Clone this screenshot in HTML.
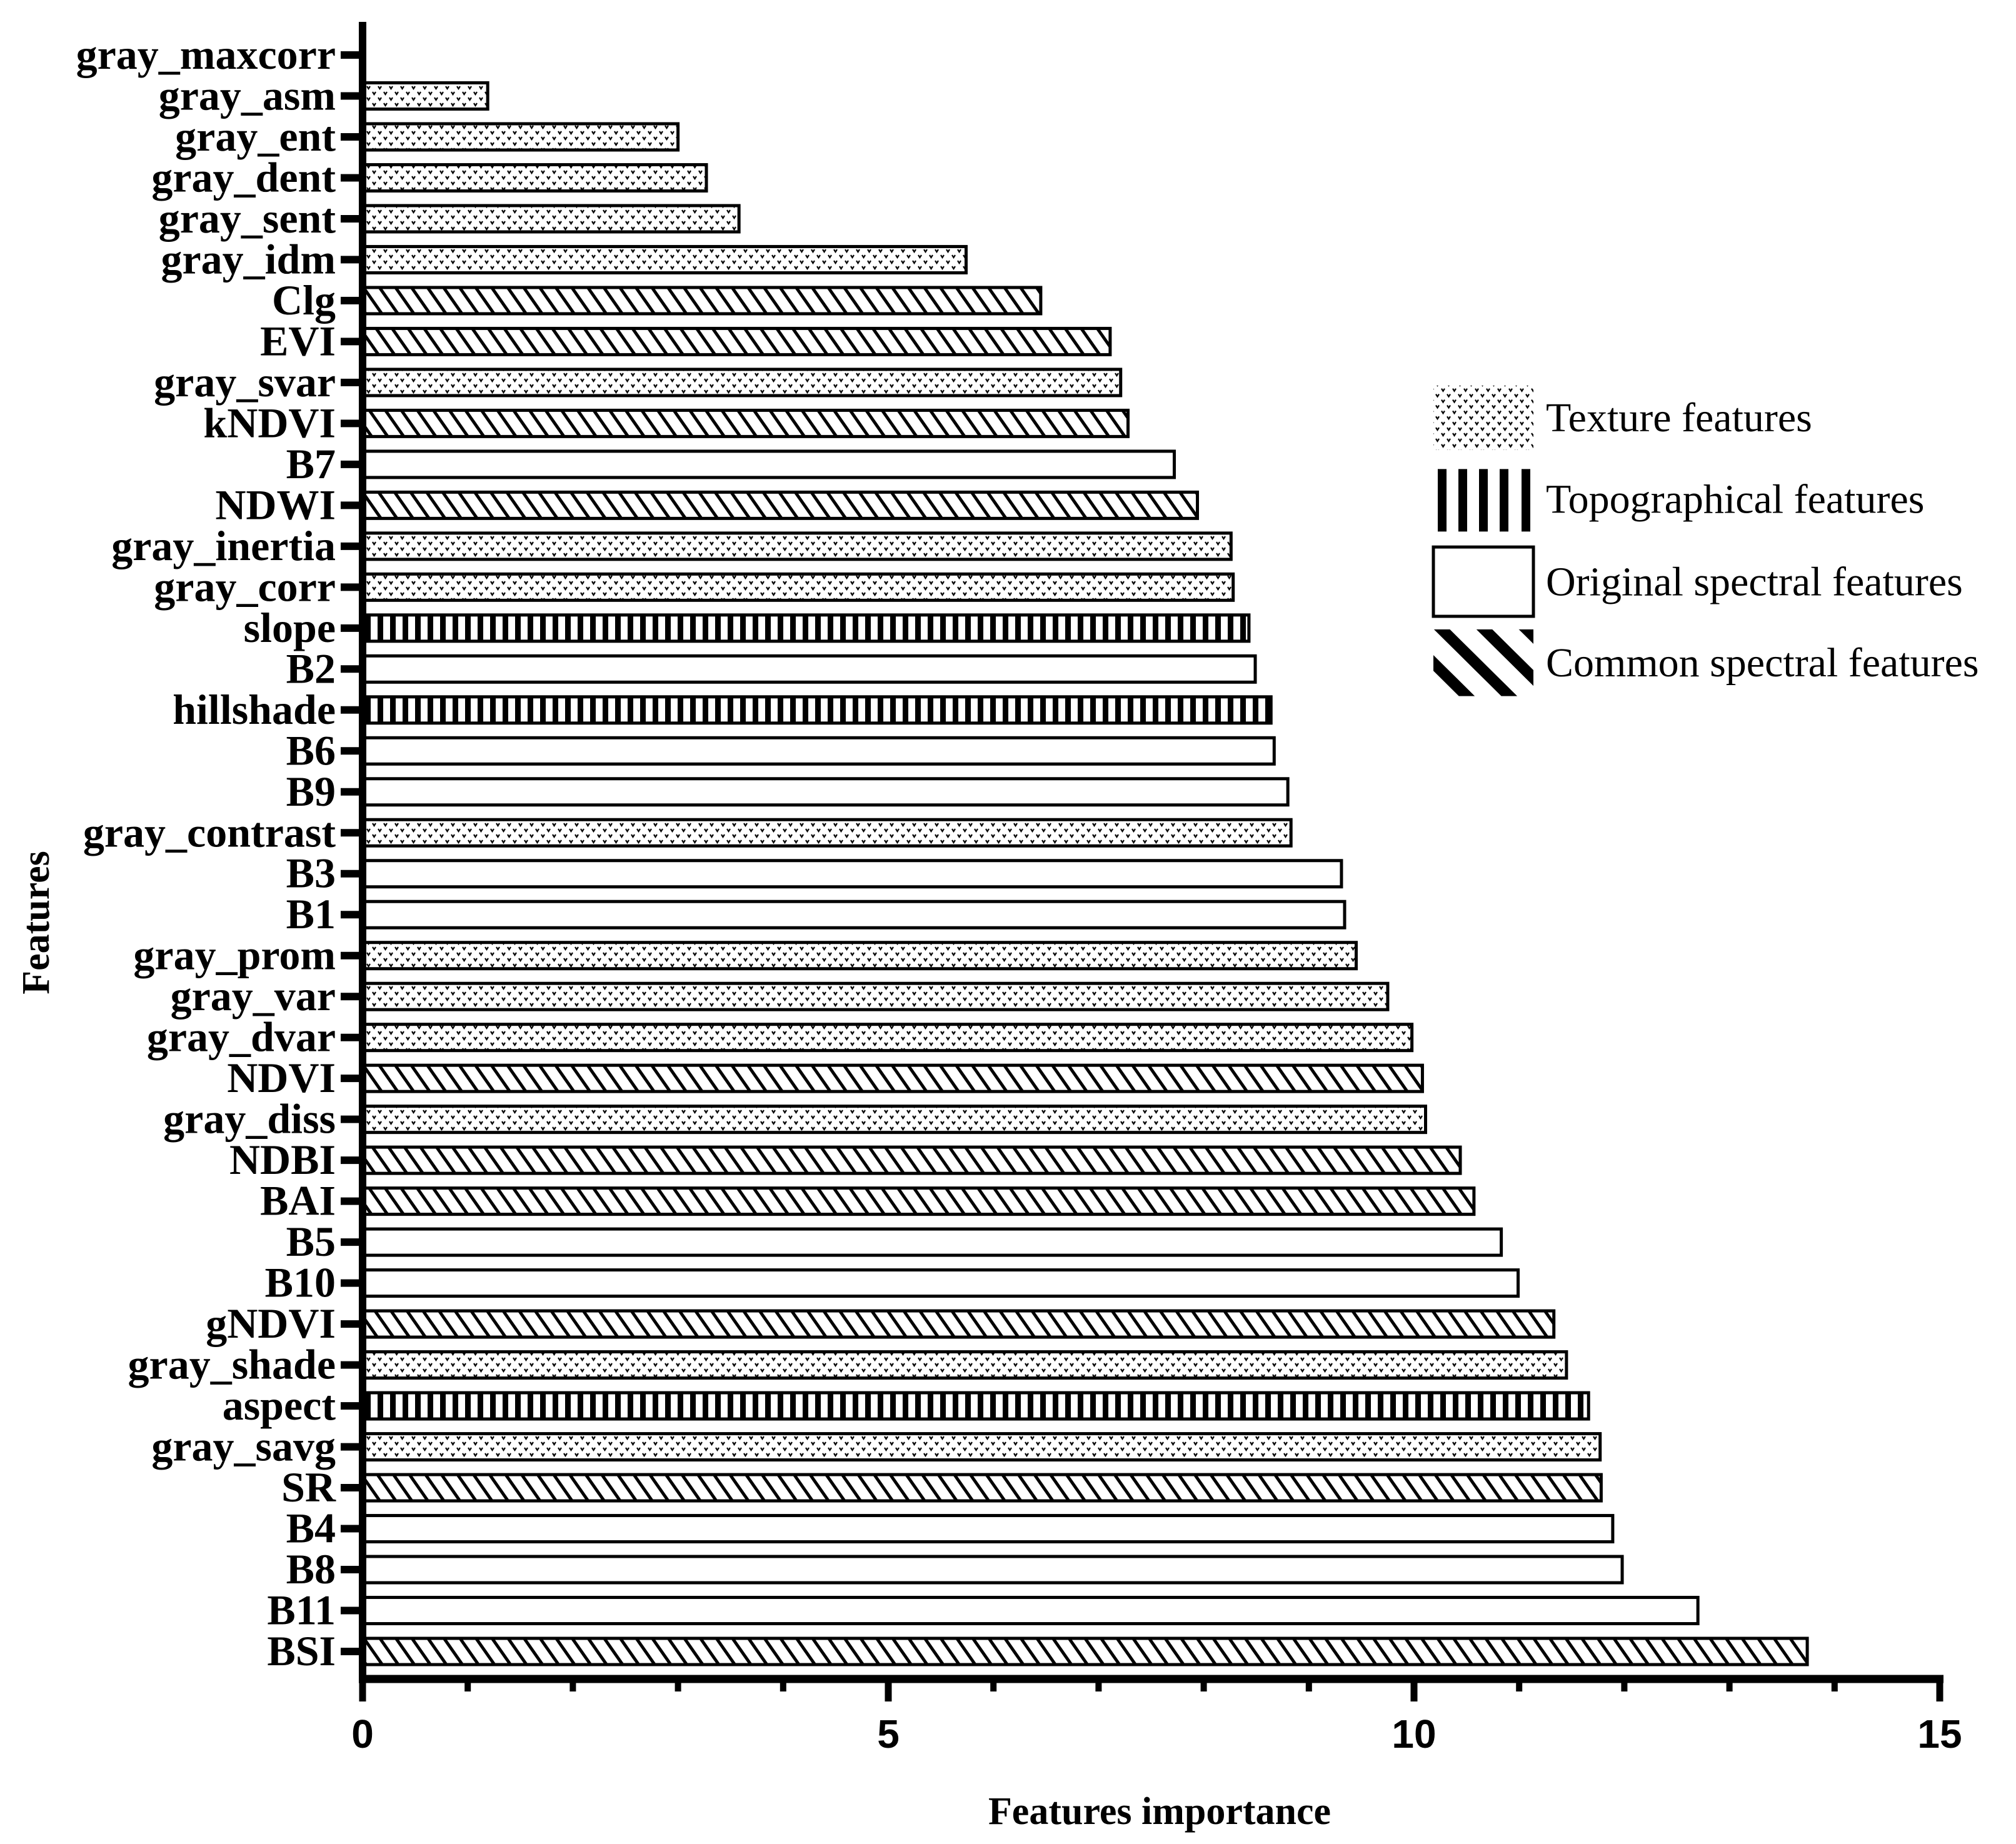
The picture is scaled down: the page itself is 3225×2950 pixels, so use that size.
<!DOCTYPE html>
<html><head><meta charset="utf-8"><style>body{margin:0;background:#fff}svg{display:block}</style></head>
<body>
<svg id="chart" width="3225" height="2950" viewBox="0 0 3225 2950" xmlns="http://www.w3.org/2000/svg">
<defs>
<pattern id="pTex" width="18" height="18" patternUnits="userSpaceOnUse">
<rect width="18" height="18" fill="#fff"/>
<path d="M2 3 L4.5 7 L7 3 M11 12 L13.5 16 L16 12" stroke="#000" stroke-width="2.2" fill="none"/>
</pattern>
<pattern id="pTopo" width="20" height="20" patternUnits="userSpaceOnUse">
<rect width="20" height="20" fill="#fff"/><rect x="4" width="9" height="20" fill="#000"/>
</pattern>
<pattern id="pCom" width="21" height="21" patternUnits="userSpaceOnUse" patternTransform="rotate(-35)">
<rect width="21" height="21" fill="#fff"/><rect x="0" width="5" height="21" fill="#000"/>
</pattern>
<pattern id="pComL" width="48" height="48" patternUnits="userSpaceOnUse" patternTransform="rotate(-45)">
<rect width="48" height="48" fill="#fff"/><rect x="0" width="18" height="48" fill="#000"/>
</pattern>
<clipPath id="clipCom"><rect x="2311" y="1022" width="160" height="108"/></clipPath>
</defs>
<g id="bars"></g>
<g id="axes"></g>
<g font-family="Liberation Serif, serif" font-size="66" transform="translate(-18,-5) scale(1,0.99)">
<g><rect x="2311" y="628" width="160" height="104" fill="url(#pTex)"/><text x="2491" y="702">Texture features</text></g>
<g>
<rect x="2318" y="763" width="14" height="101" fill="#000"/><rect x="2351" y="763" width="14" height="101" fill="#000"/><rect x="2384" y="763" width="14" height="101" fill="#000"/><rect x="2417" y="763" width="14" height="101" fill="#000"/><rect x="2452" y="763" width="14" height="101" fill="#000"/>
<text x="2491" y="834">Topographical features</text></g>
<g><rect x="2311" y="889" width="160" height="112" fill="#fff" stroke="#000" stroke-width="5"/><text x="2491" y="967">Original spectral features</text></g>
<g><rect x="2311" y="1022" width="160" height="108" fill="url(#pComL)" clip-path="url(#clipCom)"/><text x="2491" y="1098">Common spectral features</text></g>
</g>
<text x="1855" y="2918" text-anchor="middle" font-family="Liberation Serif, serif" font-weight="bold" font-size="62">Features importance</text>
<text transform="translate(78,1476) rotate(-90)" text-anchor="middle" font-family="Liberation Serif, serif" font-weight="bold" font-size="62">Features</text>
</svg>
<script>
const categories = ["gray_maxcorr","gray_asm","gray_ent","gray_dent","gray_sent","gray_idm","Clg","EVI","gray_svar","kNDVI","B7","NDWI","gray_inertia","gray_corr","slope","B2","hillshade","B6","B9","gray_contrast","B3","B1","gray_prom","gray_var","gray_dvar","NDVI","gray_diss","NDBI","BAI","B5","B10","gNDVI","gray_shade","aspect","gray_savg","SR","B4","B8","B11","BSI"];
const values = [0.02,1.19,3.0,3.27,3.58,5.74,6.45,7.11,7.21,7.28,7.72,7.94,8.26,8.28,8.43,8.49,8.64,8.67,8.80,8.83,9.31,9.34,9.45,9.75,9.98,10.08,10.11,10.44,10.57,10.83,10.99,11.33,11.45,11.66,11.77,11.78,11.89,11.98,12.70,13.74];
const groups = ["tex","tex","tex","tex","tex","tex","com","com","tex","com","orig","com","tex","tex","topo","orig","topo","orig","orig","tex","orig","orig","tex","tex","tex","com","tex","com","com","orig","orig","com","tex","topo","tex","com","orig","orig","orig","com"];
const xTicks = [0,5,10,15];
const xMinor = [1,2,3,4,6,7,8,9,11,12,13,14];

const NS="http://www.w3.org/2000/svg";
const X0=580, PX=168.2, Y0=88, STEP=(2642-88)/39, BH=42;
const xs=v=>X0+v*PX, ys=i=>Y0+i*STEP;
const fills={tex:"url(#pTex)",topo:"url(#pTopo)",orig:"#fff",com:"url(#pCom)"};
function mk(t,a,p){const e=document.createElementNS(NS,t);for(const k in a)e.setAttribute(k,a[k]);p.appendChild(e);return e;}
const bars=document.getElementById('bars'), axes=document.getElementById('axes');
categories.forEach((c,i)=>{
  const w=xs(values[i])-X0;
  if(w>3){
    const r=mk('rect',{x:X0,y:ys(i)-BH/2,width:w,height:BH,fill:fills[groups[i]],stroke:'#000','stroke-width':5},bars);
    
    
  }
  const tk=mk('line',{x1:545,x2:X0,y1:ys(i),y2:ys(i),stroke:'#000','stroke-width':12},axes);
  
  
  const t=mk('text',{x:537,y:ys(i)+22,'text-anchor':'end','font-family':'Liberation Serif, serif','font-weight':'bold','font-size':68},axes);
  t.textContent=c;
  
  
});
const ya=mk('line',{x1:X0,x2:X0,y1:35,y2:2692,stroke:'#000','stroke-width':12},axes);


const xa=mk('line',{x1:X0-6,x2:xs(15)+6,y1:2686,y2:2686,stroke:'#000','stroke-width':13},axes);


xTicks.forEach(v=>{
  const l=mk('line',{x1:xs(v),x2:xs(v),y1:2686,y2:2722,stroke:'#000','stroke-width':11},axes);
  
  
  const t=mk('text',{x:xs(v),y:2796,'text-anchor':'middle','font-family':'Liberation Sans, sans-serif','font-weight':'bold','font-size':64},axes);
  t.textContent=v;
  
  
});
xMinor.forEach(v=>{
  const l=mk('line',{x1:xs(v),x2:xs(v),y1:2686,y2:2706,stroke:'#000','stroke-width':10},axes);
  
  
});
</script>
</body></html>
